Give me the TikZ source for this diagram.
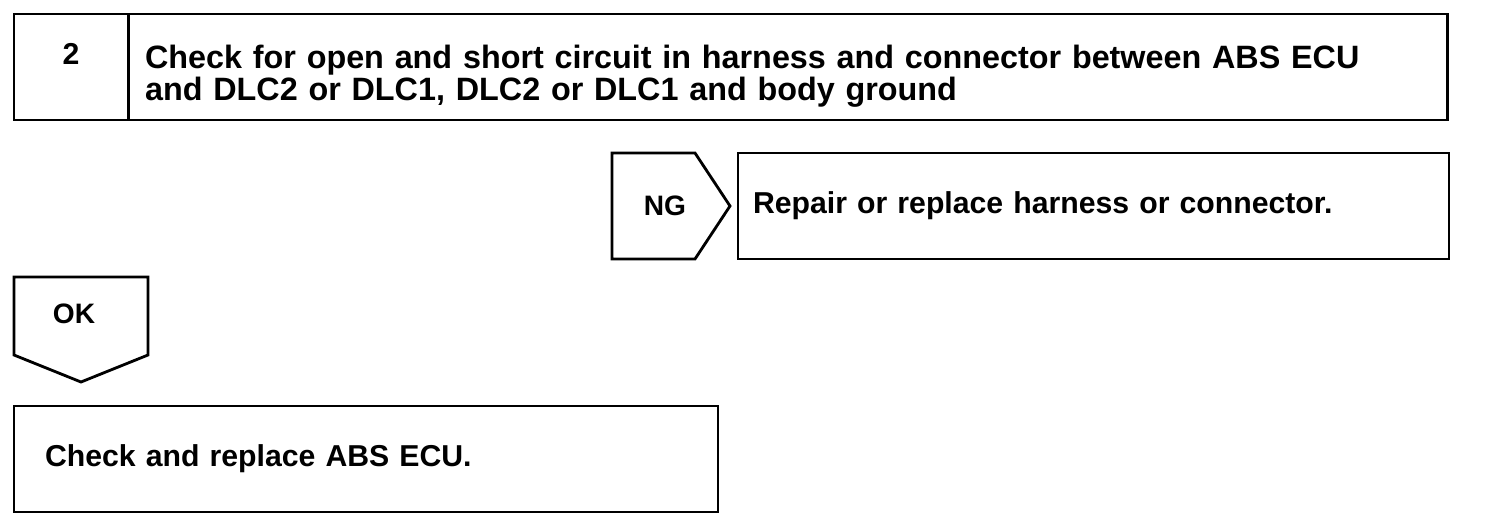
\documentclass[tikz,border=0pt]{standalone}
\usepackage{fontspec}
\setmainfont{Liberation Sans}
\usepackage{xcolor}
\usetikzlibrary{positioning}
\definecolor{cInk}{HTML}{000000}
\tikzset{
  cell/.style={draw=cInk,line width=1.6pt,rectangle,minimum height=2.12cm,inner ysep=0pt,text=cInk,font=\fontsize{17.2}{18.2}\selectfont\bfseries},
  txtcell/.style={cell,text width=#1,align=left},
  tagline/.style={draw=cInk,line width=1.6pt,line join=miter},
  taglbl/.style={font=\fontsize{16}{18.2}\selectfont\bfseries,text=cInk,inner sep=0pt},
}

\begin{document}
\begin{tikzpicture}[x=0.02cm,y=-0.02cm]
        \useasboundingbox (0,0) rectangle (1504,524);
        % step header
        \node[cell,minimum width=2.28cm,text height=12.3pt,text depth=14.6pt] (num) at (71,67) {2};
        \node[txtcell=25.72cm,inner xsep=0.34cm,text depth=11.9pt,font=\fontsize{18.4}{18.4}\selectfont\bfseries] (head) at (788,67) {Check for open and short circuit in harness and connector between ABS ECU\\and DLC2 or DLC1, DLC2 or DLC1 and body ground};
        % NG branch
        \draw[tagline] (612,153) -- (695,153) -- (730,206) -- (695,259) -- (612,259) -- cycle;
        \node[taglbl] (ng) at (665,206) {NG};
        \node[txtcell=13.62cm,inner xsep=0.3cm] (fix) at (1093.5,206) {Repair or replace harness or connector.};
        % OK branch
        \draw[tagline] (14,277) -- (148,277) -- (148,355) -- (81,382) -- (14,355) -- cycle;
        \node[taglbl] (ok) at (74,314) {OK};
        \node[txtcell=12.84cm,inner xsep=0.62cm] (ecu) at (366,459) {Check and replace ABS ECU.};
      \end{tikzpicture}
\end{document}
